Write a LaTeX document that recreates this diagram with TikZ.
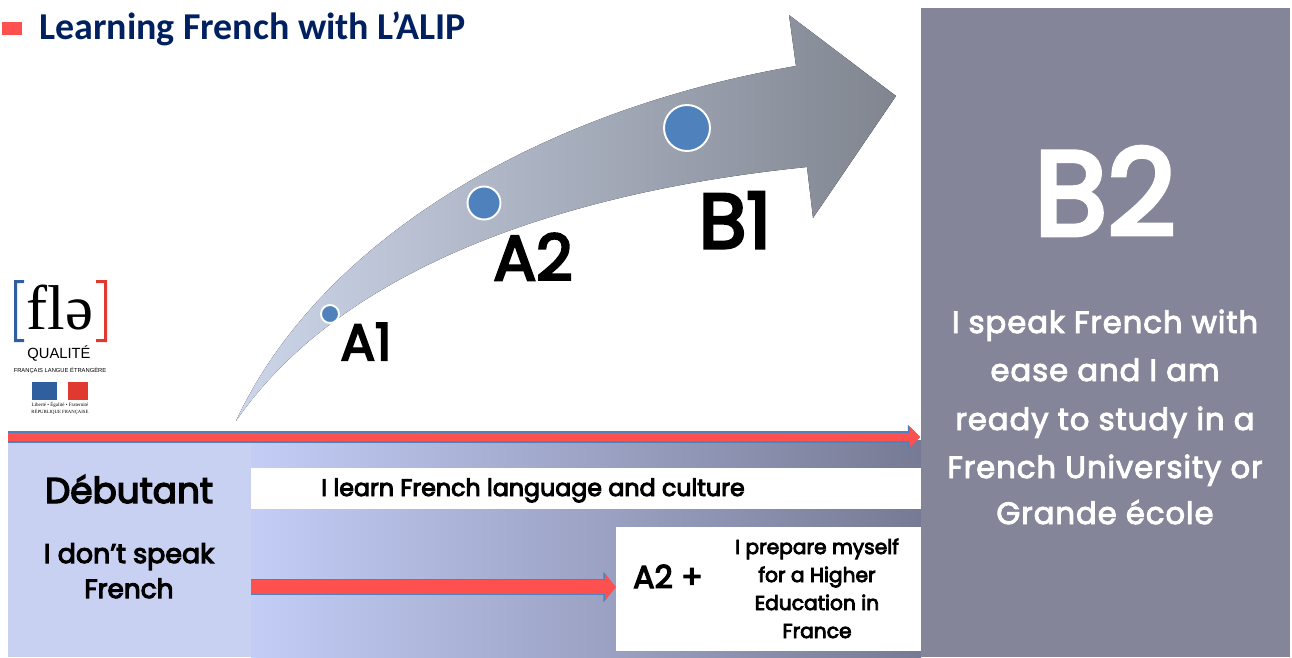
\documentclass[tikz,border=0pt]{standalone}
\usepackage{fontspec}
\setmainfont[FakeBold=4]{Poppins}
\newfontfamily\titlefont{Carlito}
\newfontfamily\logofont{Liberation Serif}
\newfontfamily\logosans{Liberation Sans}
\newfontfamily\widefont[LetterSpace=3,FakeBold=3]{Poppins}
\usetikzlibrary{arrows.meta}
\definecolor{navy}{HTML}{002060}
\definecolor{redbar}{HTML}{FF5050}
\definecolor{edgeblue}{HTML}{4F81BD}
\definecolor{bandlight}{HTML}{C9D1F3}
\definecolor{bandmid}{HTML}{C3CDF6}
\definecolor{banddark}{HTML}{767A94}
\definecolor{panelgrey}{HTML}{858599}
\definecolor{swooplight}{HTML}{CDD6EA}
\definecolor{swoopdark}{HTML}{80858F}
\definecolor{logoblue}{HTML}{2F5F9E}
\definecolor{logored}{HTML}{E03A30}
\newcommand{\fs}[1]{\fontsize{#1}{#1}\selectfont}
\tikzset{
  thinarrow/.style={redbar, line width=5pt, -{Triangle[length=6pt,width=11.5pt]},
    preaction={draw=edgeblue, line width=6.8pt, -{Triangle[length=7pt,width=13.5pt]}}},
  thickarrow/.style={redbar, line width=8pt, -{Triangle[length=6pt,width=15pt]},
    preaction={draw=edgeblue, line width=9.6pt, -{Triangle[length=7pt,width=17pt]}}},
  level/.style={fill=edgeblue, draw=white, line width=1.1pt, circle, inner sep=0pt},
  whitebox/.style={fill=white, draw=none, inner sep=0pt},
  txt/.style={inner sep=0pt, align=center, anchor=base},
  paneltext/.style={txt, white, font=\widefont\fs{17.5}}
}
\begin{document}
\begin{tikzpicture}[x=0.02cm,y=-0.02cm]
\useasboundingbox (0,0) rectangle (1292,657);

% title
\fill [redbar] (2,22) rectangle (22,35);
\node [txt,anchor=base west,navy,font=\titlefont\bfseries\fs{21.6}] (title) at (39,39) {Learning French with L’ALIP};

% bottom band
\fill [bandlight] (8,440) rectangle (251,657);
\fill [left color=bandmid,right color=banddark] (251,440) rectangle (921,657);
\node [fill=panelgrey,inner sep=0pt,minimum width=7.4cm,minimum height=12.98cm] (panel) at (1105.5,332.5) {};

% big arrow
\fill [left color=swooplight,right color=swoopdark]
  (236,421) .. controls (320,240) and (540,110) .. (796,66) -- (789,15) -- (896,96)
  -- (813,218) -- (807,167) .. controls (560,192) and (340,270) .. (236,421) -- cycle;
\node [level,minimum size=0.36cm] (ptA) at (330,314) {};
\node [level,minimum size=0.66cm] (ptB) at (484,203) {};
\node [level,minimum size=0.92cm] (ptC) at (687,128) {};
\node [txt,font=\fs{29}] (lblA) at (366,360) {A1};
\node [txt,font=\fs{36}] (lblB) at (533,280) {A2};
\node [txt,font=\fs{44}] (lblC) at (735,248) {B1};

% boxes
\node [whitebox,minimum width=13.4cm,minimum height=0.82cm] (learn) at (586,488.5) {};
\node [txt,font=\fs{13.5}] (learntxt) at (533,496) {I learn French language and culture};
\node [whitebox,minimum width=6.1cm,minimum height=2.48cm] (prep) at (768.5,589) {};
\node [txt,font=\fs{18}] (aplus) at (668,588) {A2 +};
\node [txt,font=\fs{11.5}] (prep1) at (817,554) {I prepare myself};
\node [txt,font=\fs{11.5}] (prep2) at (817,582) {for a Higher};
\node [txt,font=\fs{11.5}] (prep3) at (817,610) {Education in};
\node [txt,font=\fs{11.5}] (prep4) at (817,638) {France};

% left column
\node [txt,font=\fs{20.4}] (deb) at (129,503) {Débutant};
\node [txt,font=\fs{15.3}] (dont1) at (129,563) {I don’t speak};
\node [txt,font=\fs{15}] (dont2) at (129,598) {French};

% red arrows
\coordinate (barstart) at (8,437);
\coordinate (lowstart) at (251,587);
\draw [thinarrow] (barstart) -- (panel.west |- barstart);
\draw [thickarrow] (lowstart) -- (prep.west |- lowstart);

% right panel
\node [txt,white,font=\fs{68}] (big) at (1105,235) {B2};
\node [paneltext] (line1) at (1105,333) {I speak French with};
\node [paneltext] (line2) at (1105,381) {ease and I am};
\node [paneltext] (line3) at (1105,430) {ready to study in a};
\node [paneltext] (line4) at (1105,478) {French University or};
\node [paneltext] (line5) at (1105,524) {Grande école};

% logo
\fill [logoblue] (14,280) rectangle (24,283) (14,280) rectangle (17,342) (14,339) rectangle (24,342);
\fill [logored] (96,280) rectangle (107,283) (104,280) rectangle (107,342) (96,339) rectangle (107,342);
\node [txt,font=\logofont\fs{36}] (fle) at (60,329) {flə};
\node [txt,font=\logosans\fs{8.4}] (qual) at (59,358) {QUALITÉ};
\node [txt,font=\logosans\fs{3.3}] (fran) at (60,372) {FRANÇAIS LANGUE ÉTRANGÈRE};
\fill [logoblue] (32,382) rectangle (57,400);
\fill [logored] (68,382) rectangle (88,400);
\node [txt,font=\logofont\fs{2.85}] (dev) at (60,406) {Liberté • Égalité • Fraternité};
\node [txt,font=\logofont\fs{2.7}] (rep) at (60,413) {RÉPUBLIQUE FRANÇAISE};
\end{tikzpicture}
\end{document}
